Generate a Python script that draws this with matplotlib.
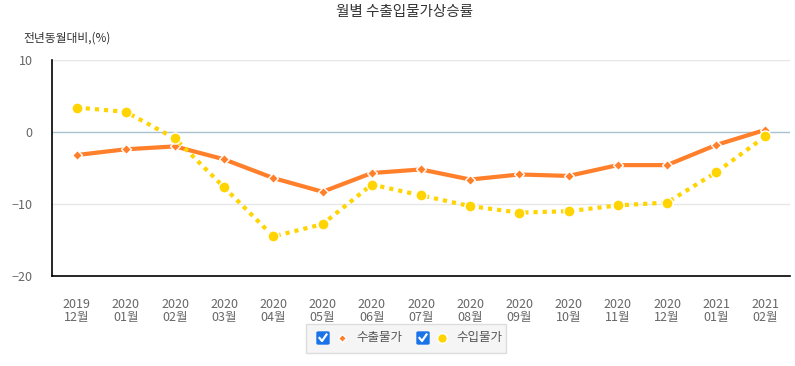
import numpy as np
import matplotlib.pyplot as plt
from matplotlib.patches import FancyBboxPatch
from matplotlib.lines import Line2D

plt.rcParams['font.family'] = ['Noto Sans CJK KR', 'DejaVu Sans']

# datos
meses = ["2019\n12월", "2020\n01월", "2020\n02월", "2020\n03월", "2020\n04월", "2020\n05월",
         "2020\n06월", "2020\n07월", "2020\n08월", "2020\n09월", "2020\n10월", "2020\n11월",
         "2020\n12월", "2021\n01월", "2021\n02월"]
suchul = [-3.2, -2.4, -2.0, -3.8, -6.4, -8.3, -5.7, -5.2, -6.6, -5.9, -6.1, -4.6, -4.6, -1.8, 0.3]
suip = [3.4, 2.8, -0.9, -7.7, -14.5, -12.8, -7.3, -8.8, -10.3, -11.2, -11.0, -10.2, -9.8, -5.6, -0.6]
serie_nombres = ["수출물가", "수입물가"]

c_orange = "#ff7f2a"
c_yellow = "#ffd400"

fig = plt.figure(figsize=(7.95, 3.66), dpi=100)
ax = fig.add_axes([52/795, 1-276/366, 738/795, 216/366])

x = np.arange(len(meses))
ax.plot(x, suchul, color=c_orange, lw=3, marker="D", ms=5.5, mec="white", mew=1, zorder=3)
ax.plot(x, suip, color=c_yellow, lw=3, ls=(0, (1, 1.2)), marker="o", ms=8, mec="white", mew=1, zorder=3)

ax.set_xlim(-0.5, len(meses) - 0.5)
ax.set_ylim(-20, 10)
ax.set_yticks([10, 0, -10, -20])
ax.set_xticks(x)
ax.set_xticklabels(meses, fontsize=9, color="#666666", linespacing=1.0)
ax.tick_params(axis="y", labelsize=9, labelcolor="#666666", length=0, pad=14)
ax.tick_params(axis="x", length=0, pad=16)

for v in [10, -10]:
    ax.axhline(v, color="#e6e6e6", lw=1, zorder=1)
ax.axhline(0, color="#a8c0d0", lw=1, zorder=1)

for s in ["top", "right"]:
    ax.spines[s].set_visible(False)
ax.spines["left"].set_color("black")
ax.spines["bottom"].set_color("black")
ax.spines["left"].set_linewidth(1.2)
ax.spines["bottom"].set_linewidth(1.2)

fig.text(405/795, 1-12/366, "월별 수출입물가상승률", ha="center", va="center", fontsize=10.5, color="#333333")
fig.text(23/795, 1-38/366, "전년동월대비,(%)", ha="left", va="center", fontsize=8.5, color="#333333")

# leyenda manual con casillas
W, H = 795, 366
def fx(px): return px / W
def fy(py): return 1 - py / H

caja = FancyBboxPatch((fx(306), fy(353)), fx(200), 29/H, boxstyle="square,pad=0",
                      transform=fig.transFigure, fc="#f5f5f5", ec="#dddddd", lw=1)
fig.patches.append(caja)
for cx, mk, col, ms, nombre in [(323, "D", c_orange, 4.5, serie_nombres[0]),
                                (423, "o", c_yellow, 7, serie_nombres[1])]:
    fig.patches.append(FancyBboxPatch((fx(cx-6), fy(344)), fx(12), 12/H,
                                      boxstyle="round,pad=0,rounding_size=0.002",
                                      transform=fig.transFigure, fc="#1a73e8", ec="#1a73e8"))
    fig.lines.append(Line2D([fx(cx-3.5), fx(cx-1), fx(cx+3.5)], [fy(338), fy(341), fy(334.5)],
                            transform=fig.transFigure, color="white", lw=1.6))
    fig.lines.append(Line2D([fx(cx+19)], [fy(338)], transform=fig.transFigure, marker=mk,
                            color=col, ms=ms, mec="white", mew=1, ls="none"))
    fig.text(fx(cx+33), fy(338), nombre, ha="left", va="center", fontsize=9, color="#555555")

plt.savefig("out.png", dpi=100)
